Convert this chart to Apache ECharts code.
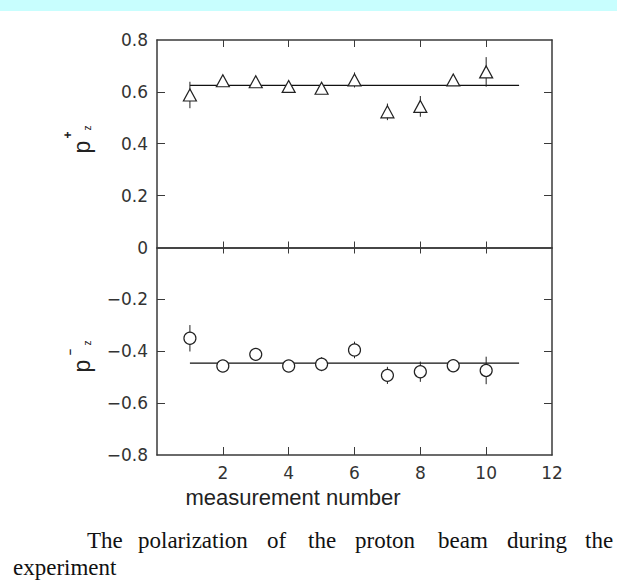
<!DOCTYPE html>
<html>
<head>
<meta charset="utf-8">
<script src="https://cdn.jsdelivr.net/npm/echarts@6/dist/echarts.min.js"></script>
<style>
html,body{margin:0;padding:0;background:#fff;}
#chart{width:617px;height:585px;}
</style>
</head>
<body>
<div id="chart"></div>
<script>
// ---- data ----
var measurement = [1, 2, 3, 4, 5, 6, 7, 8, 9, 10];
var pPlus      = [0.588, 0.643, 0.639, 0.621, 0.614, 0.646, 0.523, 0.544, 0.646, 0.677];
var pPlusErr   = [0.051, 0.015, 0.015, 0.015, 0.02, 0.029, 0.032, 0.04, 0.015, 0.057];
var pMinus     = [-0.350, -0.457, -0.412, -0.457, -0.450, -0.395, -0.493, -0.479, -0.456, -0.474];
var pMinusErr  = [0.051, 0.015, 0.015, 0.015, 0.027, 0.032, 0.033, 0.039, 0.023, 0.053];
var fitRange   = [1, 11];
var fitPlus    = 0.625;
var fitMinus   = -0.446;
var xTickLabels = [2, 4, 6, 8, 10, 12];
var xTickMarks  = [2, 4, 6, 8, 10];
var yTickLabels = [-0.8, -0.6, -0.4, -0.2, 0, 0.2, 0.4, 0.6, 0.8];
var yTickMarks  = [-0.6, -0.4, -0.2, 0.2, 0.4, 0.6];
var xName = 'measurement number';
var captionLine1 = ['The', 'polarization', 'of', 'the', 'proton', 'beam', 'during', 'the'];
var captionLine2 = 'experiment';

// ---- build ----
function zip(xs, ys, es) {
  return xs.map(function (x, i) { return es ? [x, ys[i], es[i]] : [x, ys[i]]; });
}
var axisColor = '#3a3a3a';
var ink = '#222';
function fmtY(v) {
  if (Math.abs(v) < 1e-9) return '0';
  return (v < 0 ? '\u2212' : '') + Math.abs(v).toFixed(1);
}
function errBar(params, api) {
  var x = api.value(0), y = api.value(1), e = api.value(2);
  var a = api.coord([x, y + e]), b = api.coord([x, y - e]);
  return { type: 'line', shape: { x1: a[0], y1: a[1], x2: b[0], y2: b[1] },
           style: { stroke: ink, lineWidth: 1 } };
}
var baseX = { type: 'value', min: 0, max: 12, interval: 2, splitLine: { show: false } };
function xAxis(extra) { return Object.assign({}, baseX, extra); }

var wordX = [87, 138, 267, 308, 355, 438, 507, 585];
var graphics = [
  { type: 'rect', left: 0, top: 0, shape: { width: 617, height: 11 }, style: { fill: '#c8fefe' }, silent: true },
  { type: 'text', x: 293, y: 497, style: { text: xName, font: '22px "Liberation Sans"', fill: ink, align: 'center', verticalAlign: 'middle' } },
  // y labels
  { type: 'text', x: 82, y: 147, rotation: Math.PI / 2, style: { text: 'p', font: '23px "Liberation Sans"', fill: ink, align: 'center', verticalAlign: 'middle' } },
  { type: 'text', x: 68, y: 135, rotation: Math.PI / 2, style: { text: '+', font: 'bold 12px "Liberation Sans"', fill: ink, align: 'center', verticalAlign: 'middle' } },
  { type: 'text', x: 87, y: 128, rotation: Math.PI / 2, style: { text: 'z', font: '10px "Liberation Sans"', fill: ink, align: 'center', verticalAlign: 'middle' } },
  { type: 'text', x: 82, y: 366, rotation: Math.PI / 2, style: { text: 'p', font: '23px "Liberation Sans"', fill: ink, align: 'center', verticalAlign: 'middle' } },
  { type: 'text', x: 70, y: 352, rotation: Math.PI / 2, style: { text: '\u2212', font: 'bold 11px "Liberation Sans"', fill: ink, align: 'center', verticalAlign: 'middle' } },
  { type: 'text', x: 87, y: 343, rotation: Math.PI / 2, style: { text: 'z', font: '10px "Liberation Sans"', fill: ink, align: 'center', verticalAlign: 'middle' } },
  { type: 'text', x: 13, y: 567, style: { text: captionLine2, font: '23px "Liberation Serif"', fill: '#111', align: 'left', verticalAlign: 'middle' } }
];
captionLine1.forEach(function (w, i) {
  graphics.push({ type: 'text', x: wordX[i], y: 540, style: { text: w, font: '23px "Liberation Serif"', fill: '#111', align: 'left', verticalAlign: 'middle' } });
});

var chart = echarts.init(document.getElementById('chart'), null, { renderer: 'svg' });
chart.setOption({
  animation: false,
  backgroundColor: '#fff',
  grid: { left: 157, right: 65, top: 40, bottom: 130, containLabel: false },
  xAxis: [
    xAxis({ position: 'bottom',
      axisLine: { onZero: false, lineStyle: { color: axisColor, width: 1.5 } },
      axisTick: { inside: true, length: 8, customValues: xTickMarks, lineStyle: { color: axisColor } },
      axisLabel: { customValues: xTickLabels, margin: 9, fontSize: 17, fontFamily: 'DejaVu Sans', color: '#333' } }),
    xAxis({ position: 'top',
      axisLine: { onZero: false, lineStyle: { color: axisColor, width: 1.5 } },
      axisTick: { inside: true, length: 7, customValues: xTickMarks, lineStyle: { color: axisColor } },
      axisLabel: { show: false } }),
    xAxis({ position: 'bottom',
      axisLine: { onZero: true, onZeroAxisIndex: 0, lineStyle: { color: axisColor, width: 1.5 } },
      axisTick: { inside: true, length: 6, customValues: xTickMarks, lineStyle: { color: axisColor } },
      axisLabel: { show: false } }),
    xAxis({ position: 'bottom',
      axisLine: { onZero: true, onZeroAxisIndex: 0, lineStyle: { color: axisColor, width: 1.5 } },
      axisTick: { inside: false, length: 6, customValues: xTickMarks, lineStyle: { color: axisColor } },
      axisLabel: { show: false } })
  ],
  yAxis: [
    { type: 'value', position: 'left', min: -0.8, max: 0.8, interval: 0.2, splitLine: { show: false },
      axisLine: { show: true, onZero: false, lineStyle: { color: axisColor, width: 1.5 } },
      axisTick: { show: true, inside: true, length: 8, customValues: yTickMarks, lineStyle: { color: axisColor } },
      axisLabel: { customValues: yTickLabels, formatter: fmtY, margin: 9, fontSize: 17, fontFamily: 'DejaVu Sans', color: '#333' } },
    { type: 'value', position: 'right', min: -0.8, max: 0.8, interval: 0.2, splitLine: { show: false },
      axisLine: { show: true, onZero: false, lineStyle: { color: axisColor, width: 1.5 } },
      axisTick: { show: true, inside: true, length: 8, customValues: yTickMarks, lineStyle: { color: axisColor } },
      axisLabel: { show: false } }
  ],
  series: [
    { type: 'line', xAxisIndex: 0, yAxisIndex: 0, data: [[fitRange[0], fitPlus], [fitRange[1], fitPlus]],
      symbol: 'none', lineStyle: { color: '#111', width: 1.3 }, z: 2 },
    { type: 'line', xAxisIndex: 0, yAxisIndex: 0, data: [[fitRange[0], fitMinus], [fitRange[1], fitMinus]],
      symbol: 'none', lineStyle: { color: '#111', width: 1.3 }, z: 2 },
    { type: 'custom', xAxisIndex: 0, yAxisIndex: 0, data: zip(measurement, pPlus, pPlusErr), renderItem: errBar, z: 3,
      encode: { x: 0, y: 1 } },
    { type: 'custom', xAxisIndex: 0, yAxisIndex: 0, data: zip(measurement, pMinus, pMinusErr), renderItem: errBar, z: 3,
      encode: { x: 0, y: 1 } },
    { type: 'scatter', xAxisIndex: 0, yAxisIndex: 0, data: zip(measurement, pPlus), symbol: 'triangle', symbolSize: [13, 12],
      itemStyle: { color: '#fff', borderColor: ink, borderWidth: 1.2, opacity: 1 }, z: 4 },
    { type: 'scatter', xAxisIndex: 0, yAxisIndex: 0, data: zip(measurement, pMinus), symbol: 'circle', symbolSize: 12,
      itemStyle: { color: '#fff', borderColor: ink, borderWidth: 1.2, opacity: 1 }, z: 4 }
  ],
  graphic: graphics
});
</script>
</body>
</html>
